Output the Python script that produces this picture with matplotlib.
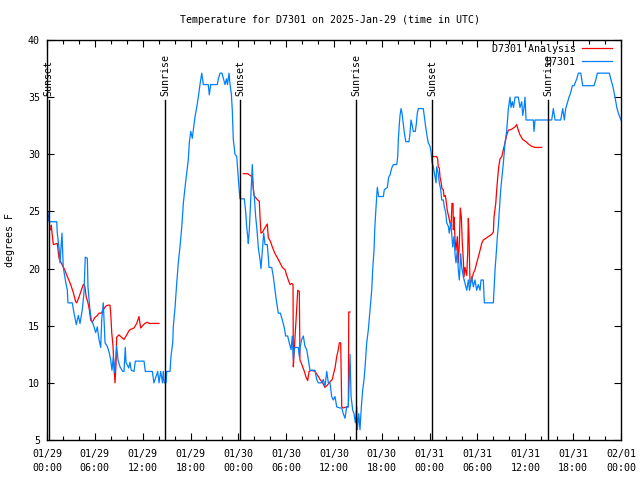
"""Temperature for D7301 on 2025-Jan-29: obs vs analysis, with sunrise/sunset marks."""
import matplotlib
matplotlib.use("Agg")
import matplotlib.pyplot as plt
from matplotlib.ticker import MultipleLocator

# hours since 2025-01-29 00:00 UTC, deg F
OBS_H = [0.13, 0.25, 1.22, 1.29, 1.51, 1.63, 1.88, 2.04, 2.35, 2.55, 2.63, 3.17, 3.39, 3.68,
         3.93, 4.14, 4.43, 4.64, 4.80, 5.06, 5.14, 5.36, 5.56, 5.81, 6.11, 6.31, 6.52, 6.74,
         6.86, 7.06, 7.28, 7.56, 7.82, 7.99, 8.15, 8.32, 8.49, 8.74, 8.91, 9.16, 9.50, 9.66,
         9.82, 9.91, 10.25, 10.41, 10.57, 10.91, 11.08, 12.17, 12.33, 13.21, 13.42, 13.89,
         14.05, 14.26, 14.49, 14.59, 14.71, 14.93, 15.02, 15.43, 15.56, 15.77, 15.84, 16.06,
         16.27, 16.47, 16.68, 16.90, 17.10, 17.31, 17.52, 17.72, 17.85, 18.03, 18.23, 18.35,
         18.57, 18.78, 18.98, 19.19, 19.41, 19.61, 20.23, 20.36, 20.53, 21.36, 21.49, 21.70,
         21.95, 22.14, 22.33, 22.52, 22.64, 22.83, 22.96, 23.12, 23.24, 23.37, 23.58, 23.80,
         23.92, 24.08, 24.21, 24.75, 24.93, 25.05, 25.18, 25.25, 25.38, 25.55, 25.68, 25.75,
         25.88, 26.00, 26.18, 26.34, 26.51, 26.72, 26.84, 27.01, 27.18, 27.35, 27.63, 27.76,
         27.85, 28.19, 28.39, 28.60, 28.81, 29.01, 29.27, 29.52, 29.77, 29.94, 30.19, 30.39,
         30.61, 30.77, 30.90, 31.02, 31.11, 31.52, 31.65, 31.77, 31.95, 32.15, 32.36, 32.58,
         32.78, 32.99, 33.61, 33.83, 34.03, 34.46, 34.66, 34.87, 35.09, 35.29, 35.50, 35.71,
         35.91, 36.13, 36.34, 36.75, 36.97, 37.17, 37.38, 37.59, 37.80, 38.01, 38.14, 38.35,
         38.51, 38.68, 38.85, 38.93, 39.11, 39.26, 39.43, 39.60, 39.77, 39.93, 40.10, 40.30,
         40.52, 40.73, 40.85, 41.02, 41.11, 41.23, 41.36, 41.43, 41.61, 42.19, 42.31, 42.69,
         42.86, 43.03, 43.24, 43.44, 43.87, 43.99, 44.07, 44.19, 44.28, 44.41, 44.53, 44.69,
         44.82, 45.00, 45.41, 45.54, 45.66, 45.79, 45.95, 46.20, 46.33, 46.45, 46.58, 47.20,
         47.33, 47.50, 47.67, 47.83, 48.04, 48.17, 48.29, 48.46, 48.67, 48.80, 48.88, 49.08,
         49.21, 49.39, 49.51, 49.71, 49.84, 50.01, 50.14, 50.34, 50.46, 50.64, 50.76, 50.89,
         51.05, 51.18, 51.30, 51.47, 51.59, 51.72, 51.89, 52.02, 52.22, 52.43, 52.65, 52.85,
         53.00, 53.15, 53.28, 53.48, 53.69, 53.90, 54.10, 54.32, 54.44, 54.73, 54.86, 55.99,
         56.07, 56.20, 56.32, 56.49, 56.61, 56.74, 56.91, 57.04, 57.24, 57.45, 57.67, 57.87,
         58.08, 58.20, 58.37, 58.52, 58.71, 59.12, 59.33, 59.55, 59.67, 59.84, 59.96, 60.09,
         61.00, 61.09, 61.22, 62.89, 63.31, 63.51, 63.73, 64.44, 64.69, 64.89, 65.07, 65.27,
         65.48, 65.69, 65.90, 66.11, 66.45, 66.65, 66.95, 67.20, 68.62, 68.87, 69.03, 70.54,
         70.71, 70.96, 71.25, 71.47, 71.67, 71.88, 72.00]
OBS_T = [24.9, 24.1, 24.1, 23.1, 21.8, 20.5, 23.1, 20.1, 18.8, 18.1, 17.0, 17.0, 16.1, 15.1,
         15.9, 15.2, 16.4, 17.9, 21.0, 20.9, 18.4, 16.6, 15.5, 15.1, 14.4, 14.9, 13.8, 13.1,
         15.5, 17.0, 13.5, 13.2, 12.6, 12.0, 11.1, 12.3, 10.9, 13.2, 12.0, 11.4, 11.0, 11.0,
         13.1, 11.8, 11.3, 11.8, 11.1, 11.0, 11.9, 11.9, 11.0, 11.0, 10.0, 11.0,
         10.0, 11.0, 10.0, 11.0, 10.0, 10.0, 11.0, 11.0, 12.4, 13.5, 14.9, 16.6,
         18.7, 20.5, 21.9, 23.6, 25.7, 27.1, 28.3, 29.5, 31.0, 32.0, 31.4, 32.1,
         33.3, 34.1, 35.0, 36.1, 37.1, 36.1, 36.1, 35.2, 36.1, 36.1, 36.6, 37.1,
         37.1, 36.6, 36.1, 36.6, 36.1, 37.1, 36.1, 35.3, 33.9, 31.3, 30.0, 29.8,
         28.6, 27.1, 26.1, 26.1, 24.9, 23.6, 22.8, 22.2, 23.4, 26.0, 27.8, 29.1,
         26.9, 26.3, 24.5, 23.4, 21.8, 20.8, 20.0, 21.6, 23.1, 22.1, 22.1, 21.0,
         20.1, 20.1, 19.3, 18.1, 17.0, 16.1, 16.1, 15.5, 14.8, 14.1, 14.1, 13.5,
         12.9, 14.1, 12.0, 12.9, 13.1, 13.1, 12.3, 13.2, 13.8, 14.1, 13.2, 12.9,
         12.0, 11.1, 11.1, 10.3, 10.0, 10.0, 10.3, 9.7, 11.0, 10.0, 10.0, 8.8,
         8.5, 8.8, 7.9, 7.8, 7.8, 7.3, 6.9, 7.9, 7.9, 12.5, 8.8, 7.6,
         7.3, 6.5, 7.9, 5.9, 7.3, 5.9, 7.9, 9.4, 10.3, 11.7, 13.5, 14.6,
         16.4, 18.1, 19.9, 21.6, 23.4, 24.9, 26.3, 27.1, 26.3, 26.3, 26.9, 27.1,
         28.0, 28.2, 28.8, 29.1, 29.1, 29.8, 31.3, 32.6, 33.4, 34.0, 33.6, 32.7,
         31.9, 31.1, 31.1, 31.9, 33.0, 32.6, 32.0, 32.0, 32.7, 33.6, 34.0, 34.0,
         33.3, 32.4, 31.6, 31.0, 30.7, 30.2, 29.3, 28.9, 28.0, 27.5, 28.9, 28.3,
         27.5, 26.9, 26.0, 26.0, 25.4, 24.9, 24.0, 23.7, 23.1, 24.0, 23.1, 21.9,
         22.8, 21.3, 20.5, 21.6, 19.9, 19.0, 21.3, 20.1, 19.3, 18.7, 18.1, 19.0,
         18.1, 18.7, 19.3, 18.4, 19.0, 18.1, 18.6, 18.1, 19.0, 19.0, 17.0, 17.0,
         18.1, 19.9, 21.0, 22.8, 23.7, 25.1, 26.9, 27.8, 29.2, 31.0, 32.1, 34.0,
         35.0, 34.1, 34.6, 34.1, 35.0, 35.0, 34.1, 34.6, 33.4, 34.1, 35.0, 33.0,
         33.0, 32.0, 33.0, 33.0, 33.0, 34.0, 33.0, 33.0, 34.0, 33.0, 34.0, 34.5,
         35.0, 35.4, 36.0, 36.0, 36.6, 37.1, 37.1, 36.0, 36.0, 36.6, 37.1, 37.1,
         36.6, 36.0, 35.0, 34.1, 33.6, 33.2, 33.0]

# analysis, three runs with gaps between them
ANA1_H = [0.46, 0.54, 0.63, 0.79, 1.29, 1.51, 1.92, 2.22, 2.55, 2.97, 3.30, 3.60, 3.73, 4.01,
          4.30, 4.55, 4.73, 4.93, 5.14, 5.31, 5.48, 5.68, 5.98, 6.31, 6.52, 6.81, 7.06, 7.36,
          7.65, 7.90, 7.99, 8.12, 8.28, 8.40, 8.53, 8.65, 8.74, 9.03, 9.32, 9.66, 10.00, 10.32,
          10.57, 10.91, 11.25, 11.54, 11.75, 12.00, 12.26, 12.58, 12.80, 14.05]
ANA1_T = [23.4, 23.8, 23.1, 22.1, 22.2, 20.9, 20.3, 19.9, 19.3, 18.6, 17.9, 17.1, 17.0, 17.5,
          18.1, 18.6, 18.5, 17.5, 17.0, 16.4, 15.5, 15.3, 15.7, 15.9, 16.1, 16.1, 16.4, 16.7,
          16.8, 16.8, 16.1, 14.4, 13.2, 11.4, 10.0, 11.5, 14.0, 14.2, 14.0, 13.8, 14.2, 14.6,
          14.7, 14.8, 15.2, 15.8, 14.8, 15.0, 15.2, 15.3, 15.2, 15.2]
ANA2_H = [24.62, 25.18, 25.59, 25.75, 25.97, 26.18, 26.43, 26.63, 26.72, 26.84, 27.06, 27.35,
          27.63, 27.76, 28.01, 28.26, 28.60, 28.94, 29.23, 29.52, 29.86, 30.07, 30.27, 30.48,
          30.69, 30.86, 30.90, 31.02, 31.11, 31.24, 31.36, 31.45, 31.65, 31.73, 31.86, 32.07,
          32.28, 32.49, 32.70, 32.87, 33.20, 33.61, 33.90, 34.25, 34.58, 34.87, 35.16, 35.50,
          35.79, 35.91, 36.13, 36.34, 36.54, 36.67, 36.84, 36.97, 37.17, 37.59, 37.80, 37.85,
          38.01]
ANA2_T = [28.3, 28.3, 28.1, 28.0, 26.4, 26.2, 26.0, 25.9, 24.5, 23.1, 23.2, 23.6,
          23.9, 22.7, 22.4, 21.9, 21.3, 20.9, 20.5, 20.1, 19.9, 19.4, 19.0, 18.6,
          18.7, 18.6, 11.4, 12.9, 14.0, 15.5, 17.0, 18.1, 18.0, 12.0, 11.8, 11.4,
          11.0, 10.5, 10.2, 11.0, 11.1, 11.0, 10.7, 10.3, 10.0, 9.6, 9.8, 10.1,
          10.3, 10.7, 11.3, 12.3, 12.9, 13.5, 13.5, 7.9, 7.8, 7.9, 7.9, 16.2,
          16.2]
ANA3_H = [48.46, 48.88, 49.00, 49.08, 49.21, 49.30, 49.42, 49.55, 49.71, 49.80, 49.96, 50.05,
          50.21, 50.43, 50.55, 50.68, 50.80, 50.93, 50.97, 51.05, 51.18, 51.30, 51.47, 51.59,
          51.72, 51.84, 51.97, 52.10, 52.22, 52.31, 52.43, 52.65, 52.77, 52.85, 52.94, 53.06,
          53.28, 53.48, 53.69, 53.90, 54.10, 54.32, 54.53, 54.73, 54.94, 55.36, 55.79, 55.99,
          56.07, 56.29, 56.41, 56.54, 56.66, 56.83, 57.04, 57.24, 57.45, 57.67, 57.87, 58.29,
          58.71, 58.92, 59.12, 59.33, 59.67, 60.09, 60.38, 60.80, 61.22, 62.05]
ANA3_T = [29.8, 29.8, 29.6, 28.9, 28.8, 28.0, 27.6, 27.0, 26.9, 26.3, 26.4, 26.0,
          25.1, 24.4, 24.0, 23.7, 25.7, 25.7, 23.4, 24.5, 22.6, 21.6, 22.8, 20.5,
          22.2, 25.3, 24.5, 22.2, 20.8, 19.3, 20.1, 19.4, 21.4, 24.4, 22.8, 18.7,
          19.0, 19.6, 19.9, 20.5, 21.0, 21.6, 22.2, 22.5, 22.6, 22.8, 23.0, 23.2,
          24.5, 25.7, 26.9, 28.0, 28.9, 29.6, 29.8, 30.4, 31.0, 31.7, 32.1, 32.2,
          32.4, 32.6, 32.1, 31.7, 31.3, 31.1, 30.9, 30.7, 30.6, 30.6]

SUN_H = [0.2, 14.8, 24.2, 38.75, 48.3, 62.85]
SUN_LABELS = ["Sunset", "Sunrise", "Sunset", "Sunrise", "Sunset", "Sunrise"]

XTICKS = [0, 6, 12, 18, 24, 30, 36, 42, 48, 54, 60, 66, 72]
XTICK_LABELS = ["01/29\n00:00", "01/29\n06:00", "01/29\n12:00", "01/29\n18:00",
                "01/30\n00:00", "01/30\n06:00", "01/30\n12:00", "01/30\n18:00",
                "01/31\n00:00", "01/31\n06:00", "01/31\n12:00", "01/31\n18:00",
                "02/01\n00:00"]

RED = "#ff0000"
BLUE = "#0080ff"
FS = 7.2

plt.rcParams.update({
    "font.family": "DejaVu Sans Mono",
    "font.size": FS,
})

fig = plt.figure(figsize=(6.4, 4.8), dpi=100)
ax = fig.add_axes([47 / 640, 40 / 480, 574 / 640, 400 / 480])

ax.plot(ANA1_H, ANA1_T, color=RED, lw=0.9, label="D7301 Analysis")
ax.plot(ANA2_H, ANA2_T, color=RED, lw=0.9)
ax.plot(ANA3_H, ANA3_T, color=RED, lw=0.9)
ax.plot(OBS_H, OBS_T, color=BLUE, lw=0.9, label="D7301")

for h, lab in zip(SUN_H, SUN_LABELS):
    ax.plot([h, h], [5, 34.75], color="black", lw=1.0)
    ax.text(h, 35.1, lab, rotation=90, ha="center", va="bottom", fontsize=FS)

ax.set_xlim(0, 72)
ax.set_ylim(5, 40)
ax.set_xticks(XTICKS, XTICK_LABELS, linespacing=1.45)
ax.xaxis.set_minor_locator(MultipleLocator(2))
ax.set_yticks([5, 10, 15, 20, 25, 30, 35, 40])
ax.tick_params(which="both", direction="in", top=True, right=True, width=0.8)
ax.tick_params(which="major", length=5, labelsize=FS)
ax.tick_params(which="minor", length=3)
ax.tick_params(axis="x", pad=6.5)
ax.tick_params(axis="y", pad=5)
for s in ax.spines.values():
    s.set_linewidth(1.0)

ax.legend(loc="upper right", bbox_to_anchor=(0.984, 0.99), frameon=False,
          markerfirst=False, handlelength=3.0, handletextpad=0.6,
          labelspacing=0.3, borderpad=0, borderaxespad=0, fontsize=FS)

fig.text(330 / 640, 1 - 20 / 480, "Temperature for D7301 on 2025-Jan-29 (time in UTC)",
         ha="center", va="center", fontsize=FS)
fig.text(10 / 640, 0.5, "degrees F", rotation=90, ha="center", va="center", fontsize=FS)

fig.savefig("out.png", dpi=100)
